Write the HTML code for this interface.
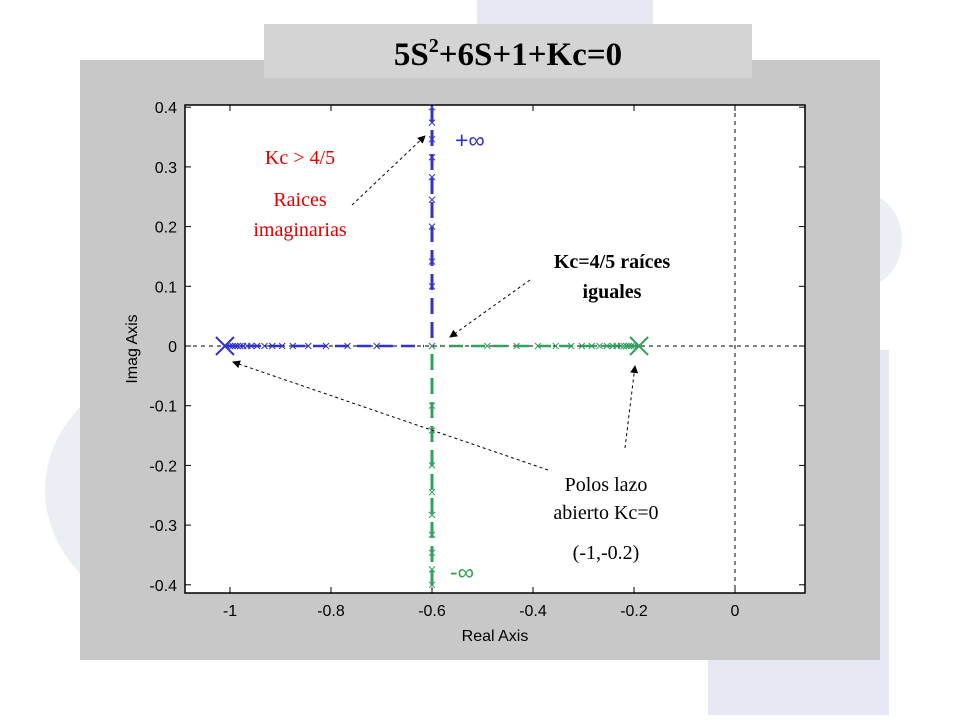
<!DOCTYPE html>
<html><head><meta charset="utf-8"><style>
html,body{margin:0;padding:0;background:#fff;}
body{width:960px;height:720px;position:relative;overflow:hidden;font-family:"Liberation Sans",sans-serif;}
</style></head><body>
<svg width="960" height="720" viewBox="0 0 960 720" xmlns="http://www.w3.org/2000/svg">
<g>
<ellipse cx="210" cy="490" rx="165" ry="135" fill="#eceef6"/>
<rect x="477" y="0" width="176" height="40" fill="#e6e9f3"/>
<ellipse cx="860" cy="240" rx="42" ry="48" fill="#eceef6"/>
<rect x="708" y="350" width="181" height="365" fill="#e6e9f3"/>
</g>
<rect x="80" y="60" width="800" height="600" fill="#c8c8c8"/>
<rect x="264" y="24" width="488" height="54" fill="#d4d4d4"/>
<text x="508" y="65" text-anchor="middle" font-family="Liberation Serif,serif" font-weight="bold" font-size="33">5S<tspan dy="-13" font-size="20">2</tspan><tspan dy="13">+6S+1+Kc=0</tspan></text>
<rect x="185" y="105" width="620" height="488" fill="#fff" stroke="#000" stroke-width="1.5"/>
<g id="axes"></g>
<g id="marks"></g>
<g font-family="Liberation Serif,serif" font-size="20">
<text x="300" y="164" text-anchor="middle" fill="#e00000">Kc &gt; 4/5</text>
<text x="300" y="206" text-anchor="middle" fill="#e00000">Raices</text>
<text x="300" y="236" text-anchor="middle" fill="#e00000">imaginarias</text>
<text x="612" y="268" text-anchor="middle" font-weight="bold">Kc=4/5 raíces</text>
<text x="612" y="298" text-anchor="middle" font-weight="bold">iguales</text>
<text x="606" y="491" text-anchor="middle">Polos lazo</text>
<text x="606" y="519" text-anchor="middle">abierto Kc=0</text>
<text x="606" y="559" text-anchor="middle">(-1,-0.2)</text>
<text x="455" y="148" fill="#3030d0" font-family="Liberation Sans,sans-serif" font-size="23">+∞</text>
<text x="450" y="580" fill="#30a050" font-family="Liberation Sans,sans-serif" font-size="23">-∞</text>
</g>
<defs><marker id="ah" markerWidth="8" markerHeight="8" refX="7" refY="4" orient="auto"><path d="M0,0 L8,4 L0,8 z" fill="#000"/></marker></defs>
<g stroke="#000" stroke-width="1" stroke-dasharray="3,3" fill="none">
<line x1="352" y1="205" x2="425" y2="136" marker-end="url(#ah)"/>
<line x1="530" y1="280" x2="450" y2="337" marker-end="url(#ah)"/>
<line x1="548" y1="470" x2="233" y2="362" marker-end="url(#ah)"/>
<line x1="625" y1="448" x2="635" y2="366" marker-end="url(#ah)"/>
</g>
</svg>
<script>
const xTicks=[-1,-0.8,-0.6,-0.4,-0.2,0];
const xTickLabels=["-1","-0.8","-0.6","-0.4","-0.2","0"];
const yTicks=[0.4,0.3,0.2,0.1,0,-0.1,-0.2,-0.3,-0.4];
const yTickLabels=["0.4","0.3","0.2","0.1","0","-0.1","-0.2","-0.3","-0.4"];
const kcValues=[0,0.02,0.04,0.06,0.08,0.1,0.13,0.16,0.2,0.25,0.3,0.36,0.42,0.5,0.58,0.66,0.74,0.8,0.85,0.9,1,1.1,1.2,1.3,1.4,1.5,1.6,1.7,1.8,1.9,2.0,2.2,2.4,2.6,2.8,3.0,3.3,3.6];
const openLoopPoles=[-1.01,-0.19];
const ns="http://www.w3.org/2000/svg";
const L=185,R=805,T=105,B=593;
function sx(v){return 735+v*505;}
function sy(v){return 346-v*597;}
function mk(tag,attrs,parent){const e=document.createElementNS(ns,tag);for(const k in attrs)e.setAttribute(k,attrs[k]);parent.appendChild(e);return e;}
const ax=document.getElementById('axes');
xTicks.forEach((v,i)=>{
 const x=sx(v);
 const t1=mk('line',{x1:x,y1:B,x2:x,y2:B-6,stroke:'#000'},ax);
 
 
 mk('line',{x1:x,y1:T,x2:x,y2:T+6,stroke:'#000'},ax);
 const tx=mk('text',{x:x,y:B+23,'text-anchor':'middle','font-size':'16'},ax);
 tx.textContent=xTickLabels[i];
 
 
});
yTicks.forEach((v,i)=>{
 const y=sy(v);
 const t1=mk('line',{x1:L,y1:y,x2:L+6,y2:y,stroke:'#000'},ax);
 
 
 mk('line',{x1:R,y1:y,x2:R-6,y2:y,stroke:'#000'},ax);
 const tx=mk('text',{x:L-8,y:y+6,'text-anchor':'end','font-size':'16'},ax);
 tx.textContent=yTickLabels[i];
 
 
});
const xt=mk('text',{x:495,y:641,'text-anchor':'middle','font-size':'16'},ax);xt.textContent='Real Axis';


const yt=mk('text',{x:0,y:0,'text-anchor':'middle','font-size':'16',transform:'translate(137,349) rotate(-90)'},ax);yt.textContent='Imag Axis';


const g1=mk('line',{x1:L,y1:sy(0),x2:R,y2:sy(0),stroke:'#000','stroke-dasharray':'4,4'},ax);


const g2=mk('line',{x1:sx(0),y1:T,x2:sx(0),y2:B,stroke:'#000','stroke-dasharray':'4,4'},ax);


const mg=document.getElementById('marks');
const blue='#3333cc',green='#33a060';
function roots(k){const d=16-20*k;if(d>=0){const s=Math.sqrt(d)/10;return [[-0.6-s,0],[-0.6+s,0]];}const s=Math.sqrt(-d)/10;return [[-0.6,s],[-0.6,-s]];}
const bl1=mk('line',{x1:sx(openLoopPoles[0]),y1:sy(0),x2:sx(-0.6)-8,y2:sy(0),stroke:blue,'stroke-width':2.5,'stroke-dasharray':'14,8'},mg);


const bl2=mk('line',{x1:sx(-0.6),y1:sy(0)-8,x2:sx(-0.6),y2:T+4,stroke:blue,'stroke-width':3,'stroke-dasharray':'16,8'},mg);


const gl1=mk('line',{x1:sx(openLoopPoles[1]),y1:sy(0),x2:sx(-0.6)+8,y2:sy(0),stroke:green,'stroke-width':2.5,'stroke-dasharray':'14,8'},mg);


const gl2=mk('line',{x1:sx(-0.6),y1:sy(0)+8,x2:sx(-0.6),y2:B-4,stroke:green,'stroke-width':3,'stroke-dasharray':'16,8'},mg);


function cross(x,y,s,c,w,name){const p=mk('path',{d:`M${x-s},${y-s}L${x+s},${y+s}M${x-s},${y+s}L${x+s},${y-s}`,stroke:c,'stroke-width':w,fill:'none'},mg);
 
 }
kcValues.forEach(k=>{const r=roots(k);
 const y0=sy(r[0][1]),y1=sy(r[1][1]);
 if(y0>=T&&y0<=B)cross(sx(r[0][0]),y0,3,blue,1,'blue-locus-point');
 if(y1>=T&&y1<=B)cross(sx(r[1][0]),y1,3,green,1,'green-locus-point');
});
cross(sx(openLoopPoles[0]),sy(0),9,blue,2,'open-loop-pole-1');
cross(sx(openLoopPoles[1]),sy(0),9,green,2,'open-loop-pole-2');
</script>
</body></html>
